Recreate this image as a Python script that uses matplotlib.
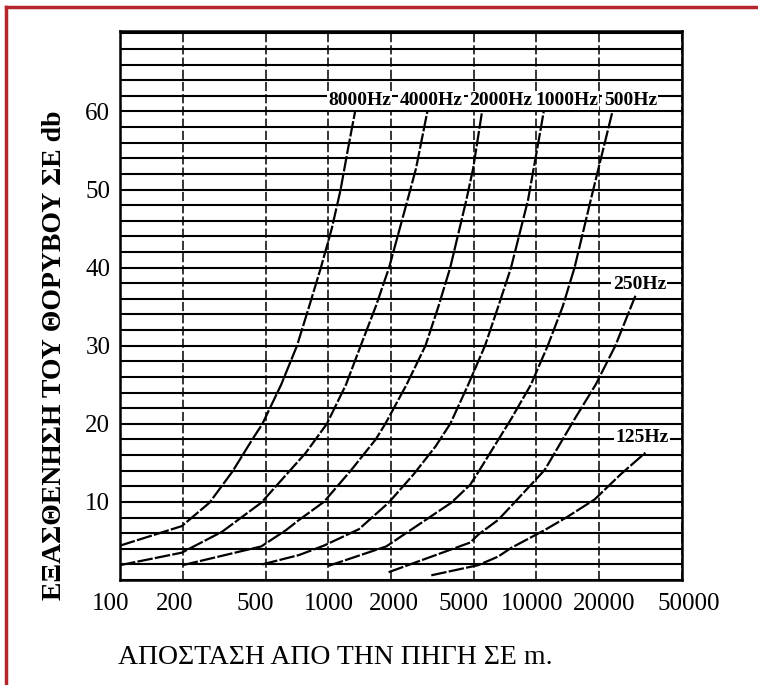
import matplotlib
matplotlib.use("Agg")
import matplotlib.pyplot as plt
from matplotlib.lines import Line2D
from matplotlib.ticker import MultipleLocator, NullLocator
from matplotlib.transforms import ScaledTranslation

plt.rcParams['font.family'] = ['Liberation Serif', 'DejaVu Serif']

# apostasi (m) / exasthenisi (dB)
d_8000 = [100, 198, 269, 347, 432, 483, 594, 708, 809, 922, 1040, 1147, 1240, 1346]
a_8000 = [4.4, 6.9, 9.9, 13.9, 18.0, 20.0, 25, 30, 35, 40, 45, 50, 55, 60]

d_4000 = [100, 198, 310, 477, 781, 985, 1216, 1432, 1690, 1960, 2400, 2640, 2993]
a_4000 = [1.9, 3.5, 6.2, 9.9, 16.3, 20, 25, 30, 35, 40, 48.6, 52.7, 60]

d_2000 = [200, 477, 628, 725, 953, 1282, 1690, 1880, 2376, 2930, 3380, 3854, 4600, 4966, 5480]
a_2000 = [1.9, 4.3, 6.4, 7.7, 10, 14, 18, 20, 25, 30, 35, 40, 48.6, 52.7, 60]

d_1000 = [482, 725, 953, 1403, 1950, 2565, 3274, 3854, 4700, 5660, 6550, 7550, 9100, 10160, 10840]
a_1000 = [2.0, 3.2, 4.4, 6.5, 9.9, 13.5, 17.1, 20, 25, 30, 35, 40, 48.6, 55.7, 60]

d_500 = [1000, 1900, 3900, 4808, 5250, 7550, 9400, 11330, 13360, 15240, 18200, 23180]
a_500 = [1.8, 4.3, 9.9, 12.2, 13.8, 20.6, 25, 30, 35, 40, 48.6, 60]

d_250 = [1950, 4808, 5250, 6550, 7890, 10960, 15240, 19230, 23930, 29870]
a_250 = [1.0, 4.8, 5.8, 7.7, 10, 14.1, 20.6, 25, 30, 36.4]

d_125 = [3126, 5250, 6550, 7550, 10960, 14100, 19000, 25300, 33350]
a_125 = [0.6, 1.9, 3.0, 4.1, 6.4, 8.1, 10.3, 13.5, 16.3]

curves = [(d_8000, a_8000), (d_4000, a_4000), (d_2000, a_2000), (d_1000, a_1000),
          (d_500, a_500), (d_250, a_250), (d_125, a_125)]

labels = ['8000Hz', '4000Hz', '2000Hz', '1000Hz', '500Hz', '250Hz', '125Hz']
label_x = [1416, 3126, 6760, 13960, 28250, 31200, 32200]
label_y = [61.4, 61.4, 61.4, 61.4, 61.4, 37.9, 18.3]

xticks = [100, 200, 500, 1000, 2000, 5000, 10000, 20000, 50000]
yticks = [10, 20, 30, 40, 50, 60]
# the printed labels sit a little off their grid lines (px)
xtick_shift = [-9, -8, -10, 1, 3, -10, -4, 5, 7]

fig = plt.figure(figsize=(7.58, 6.85), dpi=100)
ax = fig.add_axes([120/758, 105/685, 562/758, 549/685])

ax.set_xscale('log')
ax.set_xlim(100, 50000)
ax.set_ylim(0, 70.3)

ax.set_xticks(xticks)
ax.set_xticklabels([str(t) for t in xticks])
ax.xaxis.set_minor_locator(NullLocator())
ax.set_yticks(yticks)
ax.yaxis.set_minor_locator(MultipleLocator(2))
ax.tick_params(axis='both', which='both', length=0)
ax.tick_params(axis='x', pad=9, labelsize=18)
ax.tick_params(axis='y', pad=7, labelsize=18)
for lbl, dx in zip(ax.get_xticklabels(), xtick_shift):
    lbl.set_transform(lbl.get_transform() + ScaledTranslation(dx / 100, 0, fig.dpi_scale_trans))

# plegma
ax.xaxis.grid(True, which='major', color='black', linestyle=(0, (6, 2)), linewidth=1.1)
ax.yaxis.grid(True, which='both', color='black', linestyle='-', linewidth=1.5)
ax.set_axisbelow(True)
for s in ax.spines.values():
    s.set_linewidth(1.8)

for d, a in curves:
    ax.plot(d, a, color='black', linewidth=1.6, linestyle=(0, (7, 1)), zorder=3)

for lab, x, y in zip(labels, label_x, label_y):
    ax.text(x, y, lab, ha='center', va='center', fontsize=14, fontweight='bold',
            bbox=dict(facecolor='white', edgecolor='none', pad=1.0), zorder=4)

fig.text(55/758, 1 - 355/685, 'ΕΞΑΣΘΕΝΗΣΗ ΤΟΥ ΘΟΡΥΒΟΥ ΣΕ db', rotation=90,
         ha='center', va='center', fontsize=20, fontweight='bold')
fig.text(335/758, 1 - 658/685, 'ΑΠΟΣΤΑΣΗ ΑΠΟ ΤΗΝ ΠΗΓΗ ΣΕ m.',
         ha='center', va='center', fontsize=20)

# kokkino plaisio
red = '#b3262b'
fig.add_artist(Line2D([6/758, 6/758], [0, 1 - 7/685], transform=fig.transFigure, color=red, linewidth=2.5))
fig.add_artist(Line2D([6/758, 1], [1 - 7/685, 1 - 7/685], transform=fig.transFigure, color=red, linewidth=2.5))

fig.savefig('out.png', dpi=100)
